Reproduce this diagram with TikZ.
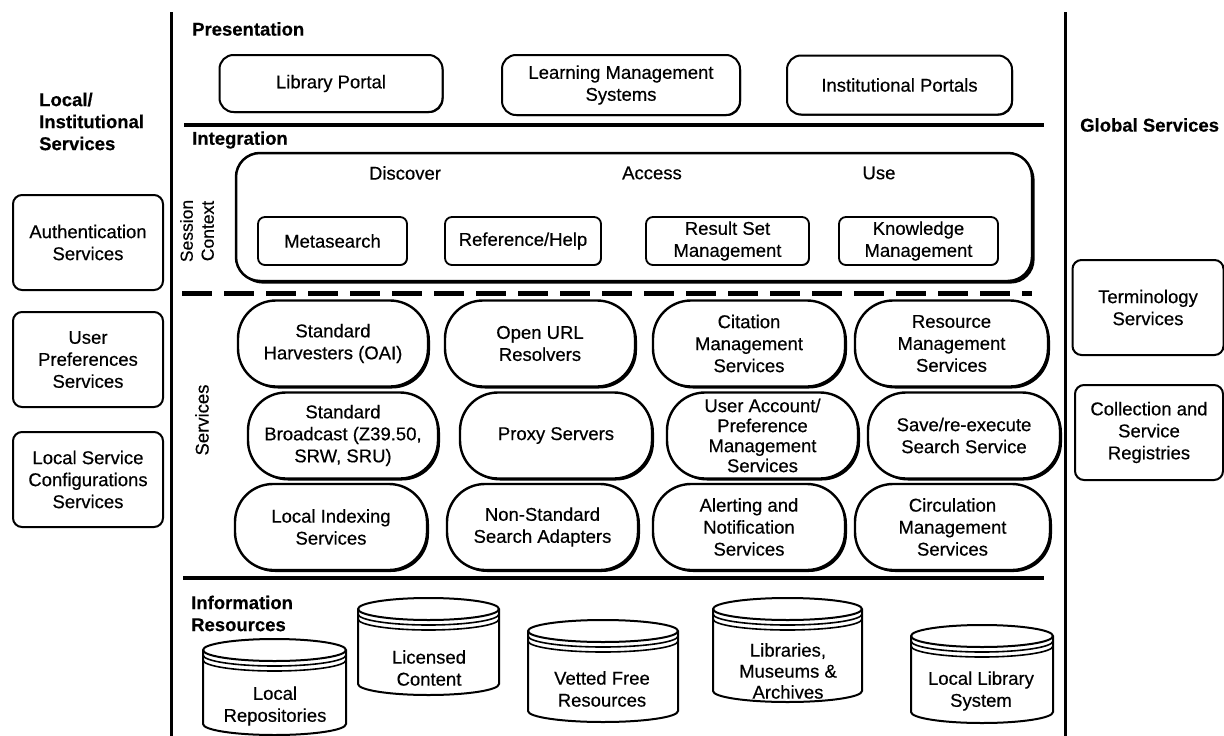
\documentclass[tikz,border=0pt]{standalone}
\usepackage{fontspec}
\setmainfont{Liberation Sans}[FakeBold=0.45]
\usetikzlibrary{shadows}
\tikzset{
 base/.style={font=\fontsize{18.5}{22}\selectfont, align=center, inner sep=0pt},
 pbox/.style={base, draw, line width=2pt, rounded corners=14pt, fill=white, drop shadow={shadow xshift=1pt,shadow yshift=-1pt,opacity=1,fill=black}},
 ibox/.style={base, draw, line width=1.8pt, rounded corners=7pt, fill=white, drop shadow={shadow xshift=0.7pt,shadow yshift=-0.7pt,opacity=1,fill=black}},
 intbox/.style={draw, line width=2.5pt, rounded corners=24pt, fill=white, drop shadow={shadow xshift=2.6pt,shadow yshift=-2.6pt,opacity=1,fill=black}},
 pill/.style={base, draw, line width=2.4pt, rounded corners=38pt, fill=white, drop shadow={shadow xshift=2pt,shadow yshift=-2pt,opacity=1,fill=black}},
 sbox/.style={base, draw, line width=2pt, rounded corners=9pt, fill=white},
 lbl/.style={base, font=\fontsize{18.5}{22}\selectfont\bfseries, align=left, anchor=west},
 txt/.style={base},
 sep/.style={line width=4pt},
 vline/.style={line width=3pt},
 cylline/.style={line width=2pt},
}
\newcommand\dbcyl[4]{%
 \pgfmathsetmacro\cylcx{(#1+#2)/2}%
 \pgfmathsetmacro\cylrx{(#2-#1)/2}%
 \filldraw[cylline, fill=white] (#1,#3+11) -- (#1,#4-11)
   arc[start angle=180,end angle=360,x radius=\cylrx pt,y radius=11pt] -- (#2,#3+11)
   arc[start angle=0,end angle=180,x radius=\cylrx pt,y radius=11pt] -- cycle;
 \draw[cylline] (#1,#3+11) arc[start angle=180,end angle=360,x radius=\cylrx pt,y radius=11pt];
 \draw[line width=1.6pt] (#1,#3+16) arc[start angle=180,end angle=360,x radius=\cylrx pt,y radius=11pt];
 \draw[line width=1.6pt] (#1,#3+21) arc[start angle=180,end angle=360,x radius=\cylrx pt,y radius=11pt];
}
\begin{document}
\begin{tikzpicture}[x=1pt,y=-1pt]
\useasboundingbox (0,0) rectangle (1224,736);
\fill[white] (0,0) rectangle (1224,736);

% vertical and horizontal separators
\draw[vline] (171,12) -- (171,736);
\draw[vline] (1065,12) -- (1065,736);
\draw[sep] (184,125) -- (1044,125);
\draw[sep] (183,578) -- (1044,578);
\draw[line width=5pt, dash pattern=on 30pt off 12pt] (182,293) -- (1032,293);

% side labels
\node[lbl] (locallbl) at (39,121.5) {Local/\\Institutional\\Services};
\node[lbl] (globallbl) at (1080,125) {Global Services};

% left boxes
\node[sbox, minimum width=150pt, minimum height=95pt] (auth) at (88,242.5) {Authentication\\Services};
\node[sbox, minimum width=150pt, minimum height=95pt] (upref) at (88,359.5) {User\\Preferences\\Services};
\node[sbox, minimum width=150pt, minimum height=95pt] (lconf) at (88,479.5) {Local Service\\Configurations\\Services};

% right boxes
\node[sbox, minimum width=151pt, minimum height=95pt] (term) at (1148,307.5) {Terminology\\Services};
\node[sbox, minimum width=148pt, minimum height=95pt] (coll) at (1149,432.5) {Collection and\\Service\\Registries};

% presentation
\node[lbl] (presl) at (192,29) {Presentation};
\node[pbox, minimum width=223pt, minimum height=57pt] (lport) at (331,83.5) {Library Portal};
\node[pbox, minimum width=238pt, minimum height=60pt] (lms) at (621,85) {Learning Management\\Systems};
\node[pbox, minimum width=225pt, minimum height=59pt] (iport) at (899.5,85) {Institutional Portals};

% integration
\node[lbl] (intl) at (192,140) {Integration};
\node[intbox, minimum width=796pt, minimum height=128pt] (integ) at (634,217) {};
\node[txt] (disc) at (405,173) {Discover};
\node[txt] (acc) at (652,173) {Access};
\node[txt] (use) at (879,173) {Use};
\node[ibox, minimum width=149pt, minimum height=48pt] (meta) at (332.5,241) {Metasearch};
\node[ibox, minimum width=156pt, minimum height=48pt] (refh) at (523,241) {Reference/Help};
\node[ibox, minimum width=163pt, minimum height=48pt] (rset) at (727.5,241) {Result Set\\Management};
\node[ibox, minimum width=159pt, minimum height=48pt] (know) at (918.5,241) {Knowledge\\Management};
\node[base, rotate=90, font=\fontsize{17.5}{21}\selectfont] (sess) at (197,231) {Session\\Context};

% services
\node[base, rotate=90] (servl) at (202,420) {Services};
\node[pill, minimum width=190pt, minimum height=86pt] (a1) at (333,343.5) {Standard\\Harvesters (OAI)};
\node[pill, minimum width=190pt, minimum height=86pt] (a2) at (540,343.5) {Open URL\\Resolvers};
\node[pill, minimum width=192pt, minimum height=86pt] (a3) at (749,343.5) {Citation\\Management\\Services};
\node[pill, minimum width=193pt, minimum height=86pt] (a4) at (951.5,343.5) {Resource\\Management\\Services};
\node[pill, minimum width=190pt, minimum height=86pt] (b1) at (343,435.5) {Standard\\Broadcast (Z39.50,\\SRW, SRU)};
\node[pill, minimum width=192pt, minimum height=86pt] (b2) at (556,435.5) {Proxy Servers};
\node[pill, minimum width=191pt, minimum height=86pt, font=\fontsize{18.5}{20}\selectfont] (b3) at (762.5,435.5) {User Account/\\Preference\\Management\\Services};
\node[pill, minimum width=192pt, minimum height=86pt] (b4) at (964,435.5) {Save/re-execute\\Search Service};
\node[pill, minimum width=192pt, minimum height=86pt] (c1) at (331,527) {Local Indexing\\Services};
\node[pill, minimum width=191pt, minimum height=86pt] (c2) at (542.5,527) {Non-Standard\\Search Adapters};
\node[pill, minimum width=192pt, minimum height=86pt] (c3) at (749,527) {Alerting and\\Notification\\Services};
\node[pill, minimum width=195pt, minimum height=86pt] (c4) at (952.5,527) {Circulation\\Management\\Services};

% information resources
\node[lbl] (infl) at (191,613.5) {Information\\Resources};
\dbcyl{203}{346}{639}{735}
\node[txt] (lrep) at (275,706) {Local\\Repositories};
\dbcyl{358}{499}{598}{695}
\node[txt] (lic) at (429,668) {Licensed\\Content};
\dbcyl{528}{678}{620}{722}
\node[txt] (vet) at (602,689) {Vetted Free\\Resources};
\dbcyl{713}{862}{598}{702}
\node[base, font=\fontsize{18.5}{21}\selectfont] (lib) at (788,671) {Libraries,\\Museums \&\\Archives};
\dbcyl{911}{1053}{625}{723}
\node[txt] (lls) at (981,691) {Local Library\\System};
\end{tikzpicture}
\end{document}
